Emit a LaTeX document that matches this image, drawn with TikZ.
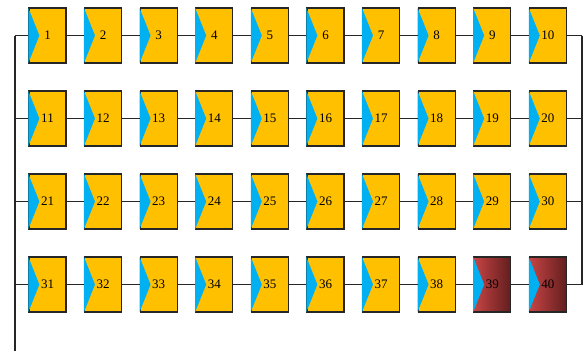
\documentclass[tikz,border=0pt]{standalone}
\usepackage{fontspec}
\setmainfont{Liberation Serif}
\usetikzlibrary{positioning, calc}
\definecolor{myyellow}{RGB}{255,192,0}
\definecolor{myblue}{RGB}{0,176,240}
\definecolor{myred}{RGB}{198,68,68}
\definecolor{mybrown}{RGB}{98,30,30}
\tikzset{
  cell/.style={rectangle, draw=black!85, fill=myyellow, minimum width=37pt, minimum height=55pt, inner sep=0pt, font=\fontsize{13}{15}\selectfont, line width=1.3pt},
  badcell/.style={cell, left color=myred, right color=mybrown},
  notch/.style={fill=myblue},
  line/.style={line width=1.3pt, color=black!85},
  bus/.style={line width=1.8pt, color=black!85}
}
\begin{document}
\begin{tikzpicture}[x=1pt, y=1pt]
  \useasboundingbox (0,0) rectangle (584,-351);
  % cells
  \foreach \n in {1,...,40} {
    \pgfmathtruncatemacro{\r}{(\n-1)/10}
    \pgfmathtruncatemacro{\c}{mod(\n-1,10)}
    \ifnum\n>38 \tikzset{cur/.style=badcell}\else\tikzset{cur/.style=cell}\fi
    \node [cur] (b\n) at ({47.5+55.6*\c}, {-35.5-83*\r}) {\n};
    \fill [notch] ([yshift=-0.6pt]b\n.north west) -- ([xshift=11pt]b\n.west) -- ([yshift=0.6pt]b\n.south west) -- cycle;
  }
  % bus ends
  \foreach \r in {0,...,3} {
    \pgfmathtruncatemacro{\first}{10*\r+1}
    \pgfmathtruncatemacro{\last}{10*\r+10}
    \coordinate (lb\first) at (15, {-35.5-83*\r});
    \coordinate (rb\last) at (582, {-35.5-83*\r});
    \draw [line] (lb\first) -- (b\first.west);
    \draw [line] (b\last.east) -- (rb\last);
    \foreach \c in {1,...,9} {
      \pgfmathtruncatemacro{\a}{10*\r+\c}
      \pgfmathtruncatemacro{\b}{\a+1}
      \draw [line] (b\a.east) -- (b\b.west);
    }
  }
  \coordinate (lbend) at (15,-351);
  \draw [bus] (lb1) -- (lbend);
  \draw [bus] (rb10) -- (rb40);
\end{tikzpicture}
\end{document}
